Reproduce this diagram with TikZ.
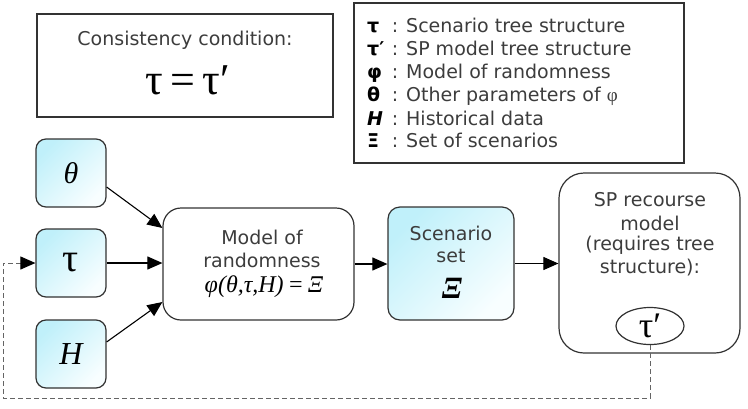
\documentclass[tikz,border=0pt]{standalone}
\usepackage{fontspec}
\setmainfont{DejaVu Sans}
\newfontfamily\tms{Liberation Serif}
\usetikzlibrary{arrows.meta,shapes.geometric,calc}
\definecolor{cyanL}{RGB}{192,240,250}
\definecolor{cyanW}{RGB}{248,254,255}
\definecolor{lineC}{RGB}{50,50,50}
\definecolor{txtC}{RGB}{60,60,60}
\definecolor{dashC}{RGB}{100,100,100}
\begin{document}
\begin{tikzpicture}[x=1pt,y=-1pt,
  box/.style={draw=lineC,line width=1.2pt,rounded corners=10pt,inner sep=0pt},
  inbox/.style={box,shading=axis,top color=cyanL,bottom color=cyanW,shading angle=45,minimum width=70pt,minimum height=68pt},
  tip/.style={-{Triangle[length=15pt,width=13pt,color=black]}},
  arr/.style={draw=black,line width=1.1pt,tip},
  dsh/.style={draw=dashC,line width=1pt,dash pattern=on 5pt off 3pt},
  lbl/.style={text=txtC,font=\fontsize{19}{23}\selectfont,align=center,inner sep=0pt},
  sym/.style={anchor=base west,inner sep=0pt,font=\bfseries\fontsize{19}{19}\selectfont},
  col/.style={anchor=base,inner sep=0pt,text=txtC,font=\fontsize{19}{19}\selectfont},
  ltx/.style={anchor=base west,inner sep=0pt,text=txtC,font=\fontsize{19}{19}\selectfont},
]
\path[use as bounding box] (0,0) rectangle (748,408);

% consistency condition
\node[box,rounded corners=0pt,minimum width=296pt,minimum height=103pt] (cc) at (185,65.5) {};
\node[lbl] (cct) at (185,40) {Consistency condition:};
\node[inner sep=0pt,font=\tms\fontsize{44}{44}\selectfont] (cceq) at (188,80) {τ\,=\,τ′};

% legend
\node[box,rounded corners=0pt,minimum width=330pt,minimum height=160pt] (leg) at (519,83) {};
\node[sym] (s1) at (367,32) {τ};
\node[col] (c1) at (395,32) {:};
\node[ltx] (t1) at (406,32) {Scenario tree structure};
\node[sym] (s2) at (367,55) {τ′};
\node[col] (c2) at (395,55) {:};
\node[ltx] (t2) at (406,55) {SP model tree structure};
\node[sym] (s3) at (367,78) {φ};
\node[col] (c3) at (395,78) {:};
\node[ltx] (t3) at (406,78) {Model of randomness};
\node[sym] (s4) at (367,101) {θ};
\node[col] (c4) at (395,101) {:};
\node[ltx] (t4) at (406,101) {Other parameters of {\tms φ}};
\node[sym,font=\bfseries\itshape\fontsize{19}{19}\selectfont] (s5) at (367,125) {H};
\node[col] (c5) at (395,125) {:};
\node[ltx] (t5) at (406,125) {Historical data};
\node[sym] (s6) at (367,147) {Ξ};
\node[col] (c6) at (395,147) {:};
\node[ltx] (t6) at (406,147) {Set of scenarios};

% inputs
\node[inbox] (th) at (71,173) {\tms\itshape\fontsize{30}{30}\selectfont θ};
\node[inbox] (tau) at (71,263) {\tms\fontsize{40}{40}\selectfont τ};
\node[inbox] (H) at (71,354) {\tms\itshape\fontsize{32}{32}\selectfont H};

% model of randomness
\node[box,rounded corners=18pt,minimum width=191pt,minimum height=112pt] (model) at (258.5,264) {};
\node[lbl] (m1) at (262,237) {Model of};
\node[lbl] (m2) at (262,260) {randomness};
\node[inner sep=0pt,font=\tms\itshape\fontsize{24}{24}\selectfont] (m3) at (264,287) {φ(θ,τ,H)\,=\,Ξ};

% scenario set
\node[inbox,rounded corners=12pt,minimum width=126pt,minimum height=113pt] (scen) at (451,263.5) {};
\node[lbl] (sc1) at (451,233) {Scenario};
\node[lbl] (sc2) at (451,256) {set};
\node[inner sep=0pt,font=\tms\bfseries\itshape\fontsize{31}{31}\selectfont] (sc3) at (452,288) {Ξ};

% SP recourse model
\node[box,rounded corners=25pt,minimum width=181pt,minimum height=180pt] (sp) at (649.5,263) {};
\node[lbl] (sp1) at (650,200) {SP recourse};
\node[lbl] (sp2) at (650,223) {model};
\node[lbl] (sp3) at (650,245) {(requires tree};
\node[lbl] (sp4) at (650,268) {structure):};
\node[draw=lineC,line width=1.2pt,ellipse,minimum width=68pt,minimum height=37pt,inner sep=0pt,font=\tms\fontsize{36}{36}\selectfont] (tp) at (650,326) {τ′};

% arrows
\draw[arr] ($(th.east)+(0,14)$) -- ($(model.west)+(0,-36)$);
\draw[arr] (tau.east) -- (tau.east -| model.west);
\draw[arr] ($(H.east)+(0,-12)$) -- ($(model.west)+(0,38)$);
\draw[arr] (model.east) -- (model.east -| scen.west);
\draw[arr] (scen.east) -- (scen.east -| sp.west);

% feedback
\coordinate (fb) at (3,398);
\draw[dsh,tip] (tp.south) -- (tp.south |- fb) -- (fb) |- (tau.west);
\end{tikzpicture}
\end{document}
